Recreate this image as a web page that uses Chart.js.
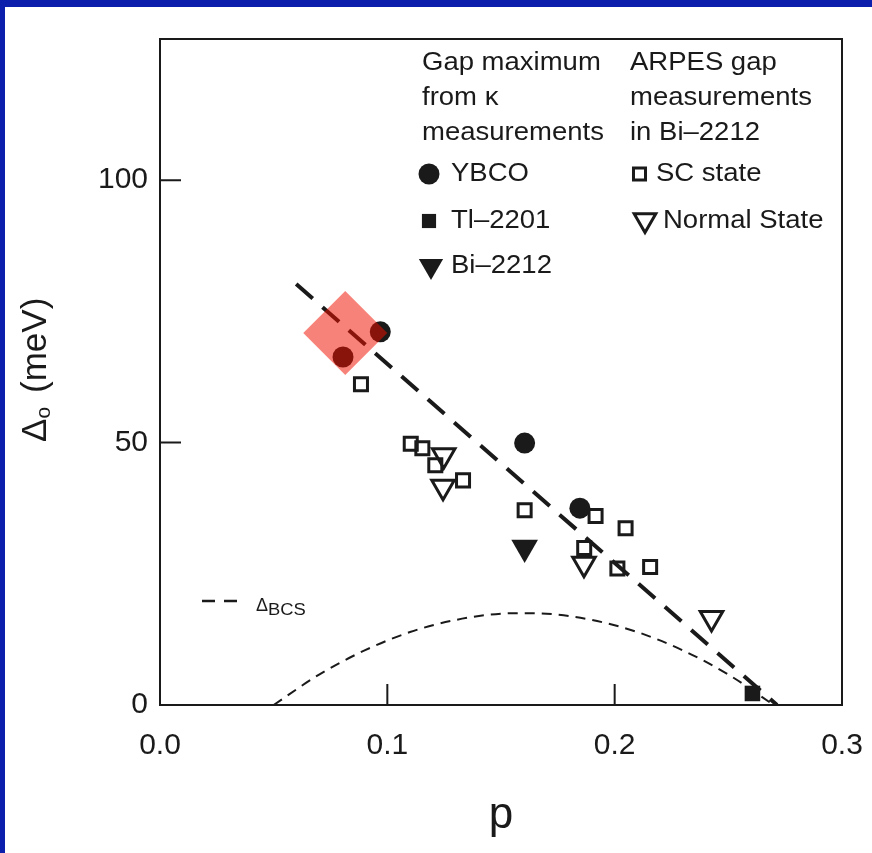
<!DOCTYPE html>
<html>
<head>
<meta charset="utf-8">
<script src="https://cdn.jsdelivr.net/npm/chart.js@4.4.1/dist/chart.umd.min.js"></script>
<style>
  html, body { margin: 0; padding: 0; }
  body { width: 872px; height: 853px; background: #0c1eac; position: relative; overflow: hidden; }
  #panel { position: absolute; left: 5px; top: 7px; right: 0; bottom: 0; background: #fff; }
  #gapChart { position: absolute; left: 0; top: 0; }
</style>
</head>
<body>
<div id="panel"></div>
<canvas id="gapChart" width="872" height="853"></canvas>
<script>
// hole doping p vs gap maximum (meV)
const ybcoP = [0.0805, 0.0969, 0.1604, 0.1847];
const ybcoGap = [66.3, 71.1, 49.9, 37.5];

const tlP = [0.2606];
const tlGap = [2.2];

const biP = [0.1604];
const biGap = [30.0];

// ARPES, Bi-2212
const scP = [0.0884, 0.1103, 0.1154, 0.1211, 0.1333, 0.1604, 0.1916, 0.2048, 0.1866, 0.2012, 0.2156];
const scGap = [61.1, 49.8, 48.9, 45.7, 42.8, 37.1, 36.0, 33.7, 29.9, 26.0, 26.3];

const normalP = [0.1248, 0.1245, 0.1865, 0.2426];
const normalGap = [47.6, 41.6, 26.9, 16.6];

// dashed guide line
const fitP = [0.0599, 0.2714];
const fitGap = [80.2, 0];

// BCS gap dome
const bcsP = [0.05, 0.07, 0.09, 0.11, 0.13, 0.15, 0.16, 0.17, 0.19, 0.21, 0.23, 0.25, 0.27];
const bcsGap = [0, 5.8, 10.4, 13.9, 16.2, 17.4, 17.5, 17.4, 16.2, 13.9, 10.4, 5.8, 0];

// highlighted region
const markP = [0.0815];
const markGap = [70.9];

const xTicks = [0, 0.1, 0.2, 0.3];
const yTicks = [0, 50, 100];

const FONT = "'Liberation Sans', Arial, Helvetica, sans-serif";
const INK = '#1a1a1a';

function pts(xs, ys) {
  return xs.map((x, i) => ({ x: x, y: ys[i] }));
}

// horizontally stretched text, the figure is a bit wide
function wideText(ctx, text, x, y, size, sx) {
  ctx.save();
  ctx.translate(x, y);
  ctx.scale(sx, 1);
  ctx.font = size + 'px ' + FONT;
  ctx.fillText(text, 0, 0);
  ctx.restore();
}

function marker(ctx, style, x, y, r, rot, fill, lw) {
  ctx.save();
  ctx.fillStyle = fill ? INK : 'transparent';
  ctx.strokeStyle = INK;
  ctx.lineWidth = lw;
  Chart.helpers.drawPoint(ctx, { pointStyle: style, radius: r, rotation: rot, borderWidth: lw }, x, y);
  ctx.restore();
}

// let layout.padding alone decide the plot box
function noOverhang(s) {
  s.paddingLeft = 0;
  s.paddingRight = 0;
  s.paddingTop = 0;
  s.paddingBottom = 0;
}

const decor = {
  id: 'decor',
  afterDraw(chart) {
    const { ctx, chartArea: a, scales: { x, y } } = chart;
    ctx.save();

    // frame + inward ticks
    ctx.strokeStyle = INK;
    ctx.lineWidth = 2;
    ctx.strokeRect(a.left, a.top, a.right - a.left, a.bottom - a.top);
    ctx.beginPath();
    xTicks.forEach(v => {
      if (v > x.min && v < x.max) {
        const px = x.getPixelForValue(v);
        ctx.moveTo(px, a.bottom);
        ctx.lineTo(px, a.bottom - 21);
      }
    });
    yTicks.forEach(v => {
      if (v > y.min && v < y.max) {
        const py = y.getPixelForValue(v);
        ctx.moveTo(a.left, py);
        ctx.lineTo(a.left + 21, py);
      }
    });
    ctx.stroke();

    // y title: Δo (meV)
    ctx.fillStyle = INK;
    ctx.save();
    ctx.translate(0, 442);
    ctx.rotate(-Math.PI / 2);
    ctx.textBaseline = 'alphabetic';
    ctx.font = '35px ' + FONT;
    const wD = ctx.measureText('Δ').width;
    ctx.fillText('Δ', 0, 46);
    ctx.font = '21px ' + FONT;
    const wO = ctx.measureText('o').width;
    ctx.fillText('o', wD, 50);
    ctx.font = '35px ' + FONT;
    ctx.fillText('(meV)', wD + wO + 14, 46);
    ctx.restore();

    // legend, two columns
    ctx.textBaseline = 'middle';
    const fs = 25, sx = 1.1;
    ['Gap maximum', 'from κ', 'measurements'].forEach((t, i) => wideText(ctx, t, 422, 63 + i * 35, fs, sx));
    ['ARPES gap', 'measurements', 'in Bi–2212'].forEach((t, i) => wideText(ctx, t, 630, 63 + i * 35, fs, sx));

    marker(ctx, 'circle', 429, 174, 10.5, 0, true, 0);
    wideText(ctx, 'YBCO', 451, 174, fs, sx);
    marker(ctx, 'rect', 429, 221, 10, 0, true, 0);
    wideText(ctx, 'Tl–2201', 451, 221, fs, sx);
    marker(ctx, 'triangle', 431, 266, 14, 180, true, 0);
    wideText(ctx, 'Bi–2212', 451, 266, fs, sx);

    marker(ctx, 'rect', 639.5, 174, 8.5, 0, false, 3);
    wideText(ctx, 'SC state', 656, 174, fs, sx);
    marker(ctx, 'triangle', 645, 220, 12.5, 180, false, 3);
    wideText(ctx, 'Normal State', 663, 221, fs, sx);

    // BCS key
    ctx.lineWidth = 2.5;
    ctx.setLineDash([]);
    ctx.beginPath();
    ctx.moveTo(202, 601); ctx.lineTo(215, 601);
    ctx.moveTo(224, 601); ctx.lineTo(237, 601);
    ctx.stroke();
    ctx.textBaseline = 'alphabetic';
    ctx.font = '18px ' + FONT;
    const wDelta = ctx.measureText('Δ').width;
    ctx.fillText('Δ', 256, 611);
    wideText(ctx, 'BCS', 256 + wDelta, 615, 16, 1.15);

    ctx.restore();
  }
};

const ctx = document.getElementById('gapChart').getContext('2d');

new Chart(ctx, {
  type: 'scatter',
  data: {
    datasets: [
      {
        label: 'highlight',
        data: pts(markP, markGap),
        pointStyle: 'rectRot',
        pointRadius: 42,
        pointBackgroundColor: 'rgba(240,15,0,0.52)',
        pointBorderWidth: 0,
        order: 0
      },
      {
        label: 'YBCO',
        data: pts(ybcoP, ybcoGap),
        pointStyle: 'circle',
        pointRadius: 10.5,
        pointBackgroundColor: INK,
        pointBorderColor: INK,
        pointBorderWidth: 0,
        order: 1
      },
      {
        label: 'Tl-2201',
        data: pts(tlP, tlGap),
        pointStyle: 'rect',
        pointRadius: 11,
        pointBackgroundColor: INK,
        pointBorderWidth: 0,
        order: 1
      },
      {
        label: 'Bi-2212',
        data: pts(biP, biGap),
        pointStyle: 'triangle',
        pointRotation: 180,
        pointRadius: 15.4,
        pointBackgroundColor: INK,
        pointBorderWidth: 0,
        order: 1
      },
      {
        label: 'SC state',
        data: pts(scP, scGap),
        pointStyle: 'rect',
        pointRadius: 9.2,
        pointBackgroundColor: 'transparent',
        pointBorderColor: INK,
        pointBorderWidth: 3,
        order: 2
      },
      {
        label: 'Normal State',
        data: pts(normalP, normalGap),
        pointStyle: 'triangle',
        pointRotation: 180,
        pointRadius: 13,
        pointBackgroundColor: 'transparent',
        pointBorderColor: INK,
        pointBorderWidth: 3,
        order: 2
      },
      {
        label: 'guide',
        data: pts(fitP, fitGap),
        showLine: true,
        borderColor: INK,
        borderWidth: 4,
        borderDash: [22, 13],
        pointRadius: 0,
        order: 3
      },
      {
        label: 'BCS',
        data: pts(bcsP, bcsGap),
        showLine: true,
        cubicInterpolationMode: 'monotone',
        borderColor: INK,
        borderWidth: 2,
        borderDash: [10, 7],
        pointRadius: 0,
        order: 3
      }
    ]
  },
  options: {
    responsive: false,
    animation: false,
    devicePixelRatio: 1,
    layout: { autoPadding: false, padding: { top: 39, right: 30, left: 0, bottom: 0 } },
    plugins: {
      legend: { display: false },
      tooltip: { enabled: false }
    },
    scales: {
      x: {
        type: 'linear',
        min: 0,
        max: 0.3,
        afterBuildTicks: s => { s.ticks = xTicks.map(v => ({ value: v })); },
        afterFit: s => { s.height = 148; noOverhang(s); },
        grid: { display: false, drawTicks: false },
        border: { display: false },
        ticks: {
          color: INK,
          font: { family: FONT, size: 30 },
          padding: 23,
          maxRotation: 0,
          callback: v => Number(v).toFixed(1)
        },
        title: {
          display: true,
          text: 'p',
          color: INK,
          font: { family: FONT, size: 44 },
          padding: { top: 0, bottom: 11 }
        }
      },
      y: {
        type: 'linear',
        min: 0,
        max: 126.9,
        afterBuildTicks: s => { s.ticks = yTicks.map(v => ({ value: v })); },
        afterFit: s => { s.width = 160; noOverhang(s); },
        grid: { display: false, drawTicks: false },
        border: { display: false },
        ticks: {
          color: INK,
          font: { family: FONT, size: 30 },
          padding: 12
        }
      }
    }
  },
  plugins: [decor]
});
</script>
</body>
</html>
